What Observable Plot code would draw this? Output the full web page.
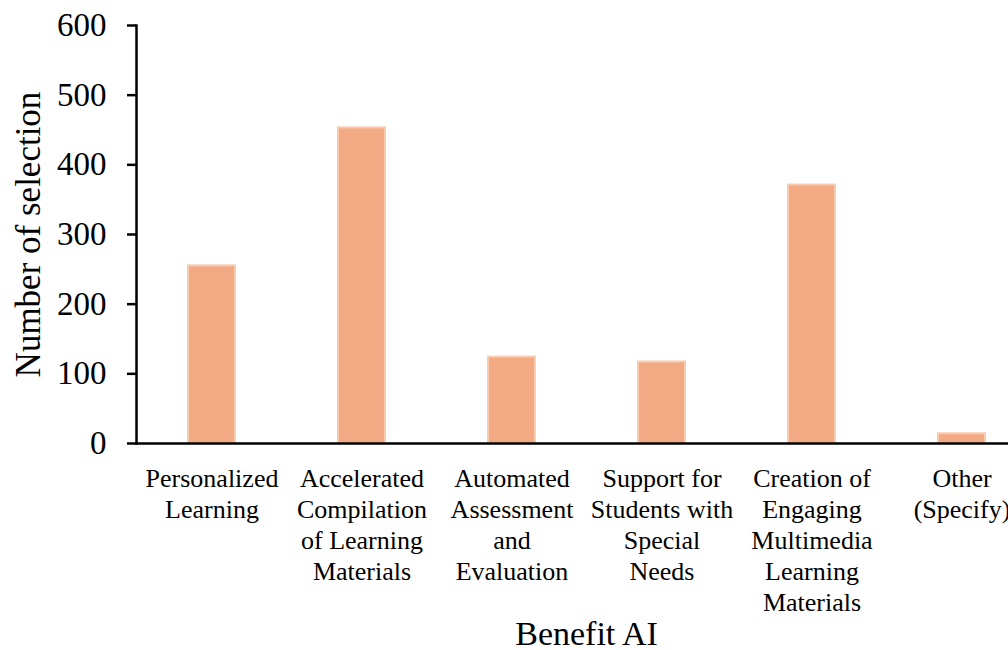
<!DOCTYPE html>
<html>
<head>
<meta charset="utf-8">
<script src="https://cdn.jsdelivr.net/npm/d3@7"></script>
<script src="https://cdn.jsdelivr.net/npm/@observablehq/plot@0.6"></script>
<style>
  html, body { margin: 0; padding: 0; background: #fff; overflow: hidden; width: 1008px; height: 650px; }
  #chart svg { display: block; max-width: none !important; }
  #chart svg text { font-family: "Liberation Serif", "Times New Roman", serif !important; }
</style>
</head>
<body>
<div id="chart"></div>
<script>
const categories = [
  "Personalized Learning",
  "Accelerated Compilation of Learning Materials",
  "Automated Assessment and Evaluation",
  "Support for Students with Special Needs",
  "Creation of Engaging Multimedia Learning Materials",
  "Other (Specify)"
];
const tickLabels = [
  "Personalized\nLearning",
  "Accelerated\nCompilation\nof Learning\nMaterials",
  "Automated\nAssessment\nand\nEvaluation",
  "Support for\nStudents with\nSpecial\nNeeds",
  "Creation of\nEngaging\nMultimedia\nLearning\nMaterials",
  "Other\n(Specify)"
];
const values = [255, 453, 124, 117, 371, 14];
const yTicks = [0, 100, 200, 300, 400, 500, 600];

const data = categories.map((c, i) => ({category: c, value: values[i]}));
const labelOf = new Map(categories.map((c, i) => [c, tickLabels[i]]));
const serif = "'Liberation Serif', 'Times New Roman', serif";

const chart = Plot.plot({
  width: 1040,
  height: 650,
  marginLeft: 136,
  marginRight: 4,
  marginTop: 25,
  marginBottom: 207,
  style: {fontFamily: serif, color: "#000", background: "#fff", maxWidth: "none"},
  x: {domain: categories, paddingInner: 0.69, paddingOuter: 0.345},
  y: {domain: [0, 600]},
  marks: [
    Plot.barY(data, {x: "category", y: "value", fill: "#F2AA84", stroke: "#F9CCAE", strokeWidth: 2}),
    Plot.ruleY([0], {stroke: "#000", strokeWidth: 2.5}),
    Plot.frame({anchor: "left", stroke: "#000", strokeWidth: 2.5}),
    Plot.axisY({ticks: yTicks, tickSize: 9, tickPadding: 21, fontSize: 33, fontFamily: serif, strokeWidth: 2.5, label: null}),
    Plot.axisY({ticks: [], label: "Number of selection", labelAnchor: "center", labelOffset: 121, labelArrow: false, fontSize: 35, fontFamily: serif}),
    Plot.axisX({tickSize: 0, tickPadding: 21, fontSize: 26, fontFamily: serif, lineHeight: 1.2, tickFormat: d => labelOf.get(d), label: null}),
    Plot.axisX({ticks: [], label: "Benefit AI", labelAnchor: "center", labelOffset: 201, labelArrow: false, fontSize: 34, fontFamily: serif})
  ]
});
document.getElementById("chart").appendChild(chart);
</script>
</body>
</html>
